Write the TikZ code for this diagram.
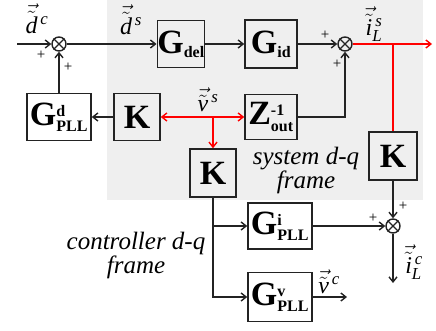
\documentclass[tikz,border=0pt]{standalone}
\usepackage{fontspec}
\setmainfont{Liberation Serif}
\usepackage{amsmath}
\usepackage{tikz}
\usetikzlibrary{positioning,arrows.meta}
\definecolor{bggray}{RGB}{239,239,239}
\definecolor{linegray}{RGB}{35,35,35}
\newcommand{\blkscr}[1]{\hbox{\fontsize{16}{16}\selectfont\bfseries #1}}
\newcommand{\sig}[2]{$\vec{\tilde{\mathit{#1}}}^{\,\mathit{#2}}$}

\begin{document}
\begin{tikzpicture}[x=1pt, y=-1pt, >={Straight Barb[length=5pt,width=8pt]}, line width=1.4pt, draw=linegray, every node/.style={font=\fontsize{24}{24}\selectfont}]
\tikzstyle{block}=[rectangle, draw=linegray, line width=1.6pt, minimum width=46pt, minimum height=47pt, inner sep=0pt, font=\fontsize{34}{34}\selectfont]
\tikzstyle{sum}=[circle, draw=linegray, line width=1.4pt, minimum size=14pt, inner sep=0pt]
\tikzstyle{sign}=[font=\fontsize{15}{15}\selectfont, inner sep=0pt]
\tikzstyle{lab}=[font=\fontsize{25}{24}\selectfont\itshape, align=center]
\useasboundingbox (0,0) rectangle (436,330);
\fill[bggray] (107,0) rectangle (423,200);
% blocks
\node[sum] (s1) at (59,44) {};
\node[block] (gdel) at (181,44) {$\mathbf{G}_{\blkscr{del}}$};
\node[block, minimum width=52pt, minimum height=48pt] (gid) at (271,44) {$\mathbf{G}_{\blkscr{id}}$};
\node[sum] (s2) at (345,44) {};
\node[block, minimum width=52pt, minimum height=45pt] (zout) at (271,117) {$\mathbf{Z}^{\blkscr{-1}}_{\blkscr{out}}$};
\node[block, minimum width=64pt] (gpd) at (59,117) {$\mathbf{G}^{\blkscr{d}}_{\blkscr{PLL}}$};
\node[block] (kl) at (137,117) {$\mathbf{K}$};
\node[block, minimum height=48pt] (km) at (213,173) {$\mathbf{K}$};
\node[block, minimum width=48pt, minimum height=48pt] (kr) at (393,156) {$\mathbf{K}$};
\node[block, minimum width=64pt, minimum height=46pt] (gpi) at (280,226) {$\mathbf{G}^{\blkscr{i}}_{\blkscr{PLL}}$};
\node[block, minimum width=64pt, minimum height=49pt] (gpv) at (280,297) {$\mathbf{G}^{\blkscr{v}}_{\blkscr{PLL}}$};
\node[sum] (s3) at (393,226) {};
\foreach \s in {s1,s2,s3}
  \draw[line width=1.2pt] (\s.north west) -- (\s.south east) (\s.north east) -- (\s.south west);
% free ends
\coordinate (din) at (17,44);
\coordinate (vs) at (213,117);
\coordinate (il) at (393,44);
\coordinate (iout) at (432,44);
\coordinate (br) at (km.south |- gpi.west);
\coordinate (icout) at (393,283);
\coordinate (vout) at (347,297);
% connectors
\draw[->] (din) -- (s1);
\draw[->] (s1) -- (gdel);
\draw[->] (gdel) -- (gid);
\draw[->] (gid) -- (s2);
\draw[->] (zout.east) -| (s2.south);
\draw[->] (gpd) -- (s1);
\draw[->] (kl) -- (gpd);
\draw[red, <->] (kl) -- (zout);
\draw[red, ->] (vs) -- (km);
\draw[red, ->] (s2) -- (iout);
\draw[red] (il) -- (kr);
\draw[->] (km.south) |- (gpv.west);
\draw[->] (br) -- (gpi.west);
\draw[->] (gpi) -- (s3);
\draw[->] (kr) -- (s3);
\draw[->] (s3) -- (icout);
\draw[->] (gpv) -- (vout);
% signals
\node (ldc) at (37,19) {\sig{d}{c}};
\node (lds) at (131,20) {\sig{d}{s}};
\node (lis) at (374,24) {$\vec{\tilde{\mathit{i}}}^{\,\mathit{s}}_{\mathit{L}}$};
\node (lvs) at (208,100) {\sig{v}{s}};
\node (lic) at (414,262) {$\vec{\tilde{\mathit{i}}}^{\,\mathit{c}}_{\mathit{L}}$};
\node (lvc) at (329,282) {\sig{v}{c}};
% signs
\node[sign] at (41,55) {+};
\node[sign] at (68,67) {+};
\node[sign] at (325,35) {+};
\node[sign] at (337,64) {+};
\node[sign] at (373,218) {+};
\node[sign] at (403,206) {+};
% frames
\node[lab] (sysf) at (306,170) {system d-q\\frame};
\node[lab] (ctrf) at (136,255) {controller d-q\\frame};
\end{tikzpicture}
\end{document}
